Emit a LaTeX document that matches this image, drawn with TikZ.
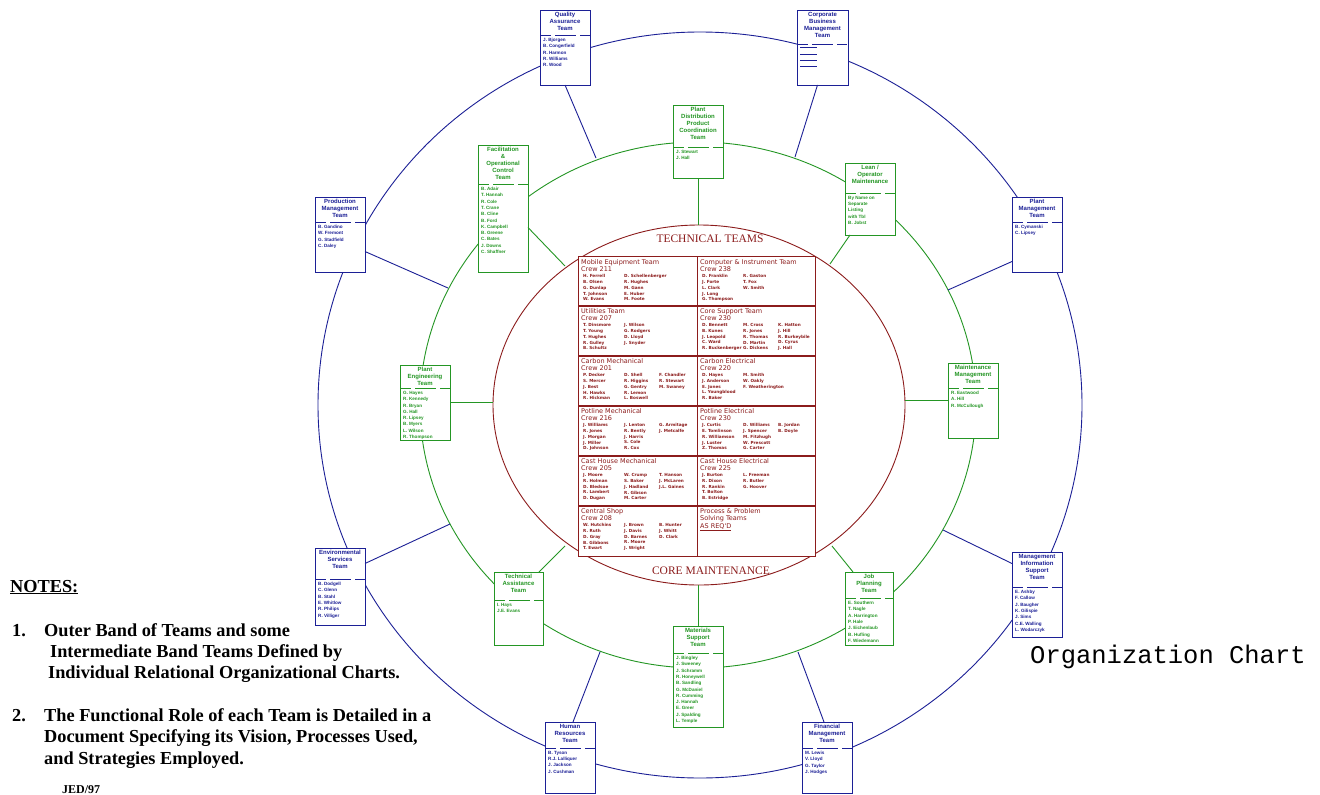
\documentclass[tikz,border=0pt]{standalone}
\usepackage{fontspec}
\setmainfont{Liberation Serif}
\setsansfont{Liberation Sans}
\newfontfamily\monof{Liberation Mono}
\newfontfamily\tabf{DejaVu Sans}
\usetikzlibrary{calc}
\definecolor{cblue}{RGB}{28,32,150}
\definecolor{cgreen}{RGB}{36,150,36}
\definecolor{cred}{RGB}{140,28,28}
\tikzset{
 tboxst/.style={draw=#1, fill=white, line width=1pt, inner sep=0pt, outer sep=0pt},
 ttitle/.style={font=\sffamily\bfseries\fontsize{6}{7}\selectfont, align=center, inner sep=0pt},
 tlist/.style={font=\sffamily\bfseries\fontsize{4.6}{6.3}\selectfont, align=left, inner sep=0pt},
 thead/.style={font=\tabf\fontsize{6.5}{7.6}\selectfont, text=cred, align=left, inner sep=0pt, anchor=north west},
 tname/.style={font=\tabf\bfseries\fontsize{4.2}{5.9}\selectfont, text=cred, align=left, inner sep=0pt, anchor=north west},
 ring/.style={line width=0.9pt},
 link/.style={line width=0.9pt},
 note/.style={font=\bfseries\fontsize{18.3}{21}\selectfont, anchor=base west, inner sep=0pt},
 sepline/.style={line width=0.9pt, dash pattern=on 11pt off 4pt on 21pt off 4pt on 10pt},
}
\newcommand{\tbox}[9]{%
  \node[tboxst=#2, minimum width={#5-#3}, minimum height={#6-#4}, anchor=north west] (#1) at (#3,#4) {};
  \draw[#2, sepline] (#3,#7) -- (#5,#7);
  \node[ttitle, text=#2, anchor=north] (#1-t) at ({(#3+#5)/2},{#4+2}) {#8};
  \node[tlist, text=#2, anchor=north west] (#1-l) at ({#3+3},{#7+3}) {#9};
}
\newcommand{\tcell}[7]{%
  \node[thead] (#1-h) at ({#2+3},{#3+2}) {#4};
  \node[tname] (#1-a) at ({#2+5},{#3+17}) {#5};
  \node[tname] (#1-b) at ({#2+46},{#3+17}) {#6};
  \node[tname] (#1-c) at ({#2+81},{#3+17}) {#7};
}
\newcommand{\dl}{\rule[1pt]{17pt}{0.6pt}}
\begin{document}
\begin{tikzpicture}[x=1pt,y=-1pt]
\useasboundingbox (0,0) rectangle (1320,795);
\fill[white] (0,0) rectangle (1320,795);
% rings
\draw[ring, cblue] (700,405) ellipse [x radius=382pt, y radius=373pt];
\draw[ring, cgreen] (698,405) ellipse [x radius=278pt, y radius=263pt];
\draw[ring, cred] (699,405) ellipse [x radius=206pt, y radius=180pt];
% points on rings
\coordinate (gqa) at (596,158);
\coordinate (gcb) at (795,157);
\coordinate (gpr) at (448,288);
\coordinate (gpm) at (948,290);
\coordinate (ges) at (450,524);
\coordinate (gmis) at (943,530);
\coordinate (ghr) at (600,652);
\coordinate (gfm) at (798,652);
\coordinate (rpd) at (698,225);
\coordinate (rpe) at (493,402.5);
\coordinate (rmm) at (905,400.5);
\coordinate (rms) at (698,585);
\coordinate (rfo) at (565,266);
\coordinate (rlo) at (830,264);
\coordinate (rta) at (565,546);
\coordinate (rjp) at (832,546);
% outer band (blue)
\tbox{qa}{cblue}{540}{10}{590}{85}{35}{Quality\\Assurance\\Team}{J. Bjorgen\\B. Congerfield\\R. Harmon\\R. Williams\\R. Wood}
\tbox{cbm}{cblue}{797}{10}{848}{85}{44}{Corporate\\Business\\Management\\Team}{\dl\\\dl\\\dl\\\dl}
\tbox{pm}{cblue}{1012}{197}{1062}{272}{222}{Plant\\Management\\Team}{B. Cymanski\\C. Lipsey}
\tbox{mis}{cblue}{1012}{552}{1062}{637}{587}{Management\\Information\\Support\\Team}{E. Ashby\\F. Callow\\J. Baugher\\K. Gilispie\\J. Sims\\C.E. Walling\\L. Wodarczyk}
\tbox{fm}{cblue}{802}{722}{852}{793}{748}{Financial\\Management\\Team}{M. Lewis\\V. Lloyd\\G. Taylor\\J. Hodges}
\tbox{hr}{cblue}{545}{722}{595}{793}{748}{Human\\Resources\\Team}{B. Tyson\\R.J. Lalliquer\\J. Jackson\\J. Cushman}
\tbox{es}{cblue}{315}{548}{365}{625}{579}{Environmental\\Services\\Team}{B. Dodgell\\C. Glenn\\B. Stahl\\E. Whitlow\\R. Philips\\R. Villiger}
\tbox{pr}{cblue}{315}{197}{365}{272}{222}{Production\\Management\\Team}{B. Gandino\\W. Fremont\\G. Stadfield\\C. Daley}
% intermediate band (green)
\tbox{fo}{cgreen}{478}{145}{528}{272}{184}{Facilitation\\\&\\Operational\\Control\\Team}{B. Adair\\T. Hannah\\R. Cole\\T. Crane\\B. Cline\\B. Ford\\K. Campbell\\B. Greene\\C. Bates\\J. Downs\\C. Shaffner}
\tbox{pd}{cgreen}{673}{105}{723}{178}{147}{Plant\\Distribution\\Product\\Coordination\\Team}{J. Stewart\\J. Hall}
\tbox{lo}{cgreen}{845}{163}{895}{235}{193}{Lean /\\Operator\\Maintenance}{By Name on\\Separate\\Listing\\with Tbl\\B. Jobst}
\tbox{pe}{cgreen}{400}{365}{450}{440}{388}{Plant\\Engineering\\Team}{G. Hayes\\R. Kennedy\\R. Bryan\\G. Hall\\R. Lipsey\\B. Myers\\L. Wilson\\R. Thompson}
\tbox{mm}{cgreen}{948}{363}{998}{438}{388}{Maintenance\\Management\\Team}{R. Eastwood\\A. Hill\\R. McCullough}
\tbox{ta}{cgreen}{494}{572}{543}{645}{600}{Technical\\Assistance\\Team}{I. Hays\\J.E. Evans}
\tbox{jp}{cgreen}{845}{572}{893}{645}{598}{Job\\Planning\\Team}{E. Southern\\T. Nagle\\A. Harrington\\P. Hale\\J. Eichenlaub\\B. Hufling\\F. Wiedemann}
\tbox{ms}{cgreen}{673}{626}{723}{727}{653}{Materials\\Support\\Team}{J. Bingley\\J. Sweeney\\J. Schramm\\R. Honeywell\\B. Sandling\\G. McDaniel\\R. Cumming\\J. Hannah\\E. Greer\\J. Spalding\\L. Temple}
% connectors blue
\draw[link,cblue] (qa.south) -- (gqa);
\draw[link,cblue] ([xshift=-5pt]cbm.south) -- (gcb);
\draw[link,cblue] ([yshift=-17pt]pr.east) -- (gpr);
\draw[link,cblue] ([yshift=-27pt]pm.west) -- (gpm);
\draw[link,cblue] ([yshift=23pt]es.east) -- (ges);
\draw[link,cblue] ([yshift=31pt]mis.west) -- (gmis);
\draw[link,cblue] ([xshift=3pt]hr.north) -- (ghr);
\draw[link,cblue] ([xshift=-3pt]fm.north) -- (gfm);
% connectors green
\draw[link,cgreen] (pd.south) -- (rpd);
\draw[link,cgreen] (pe.east) -- (rpe);
\draw[link,cgreen] (mm.west) -- (rmm);
\draw[link,cgreen] (ms.north) -- (rms);
\draw[link,cgreen] ([yshift=-19pt]fo.east) -- (rfo);
\draw[link,cgreen] ([xshift=5pt]lo.south west) -- (rlo);
\draw[link,cgreen] ([xshift=-4pt]ta.north east) -- (rta);
\draw[link,cgreen] ([xshift=8pt]jp.north west) -- (rjp);
% core table
\node[draw=cred, fill=white, line width=1.2pt, inner sep=0pt, minimum width=237, minimum height=300, anchor=north west] (tbl) at (578,256) {};
\draw[cred, line width=1.1pt] (tbl.north) -- (tbl.south);
\foreach \yy in {306,356,406,456,506} \draw[cred, line width=1.1pt] (578,\yy) -- (815,\yy);
\node[font=\fontsize{11.5}{12}\selectfont, text=cred] (tt) at (710,239) {TECHNICAL TEAMS};
\node[font=\fontsize{11.5}{12}\selectfont, text=cred] (cmt) at (711,571) {CORE MAINTENANCE};
\tcell{c1}{578}{257}{Mobile Equipment Team\\Crew 211}{H. Ferrell\\B. Olsen\\G. Dunlap\\T. Johnson\\W. Evans}{D. Schellenberger\\R. Hughes\\M. Gann\\E. Huber\\M. Foote}{}
\tcell{c2}{697}{257}{Computer \& Instrument Team\\Crew 238}{D. Franklin\\J. Forte\\L. Clark\\J. Long\\G. Thompson}{R. Gaston\\T. Fox\\W. Smith}{}
\tcell{c3}{578}{306}{Utilities Team\\Crew 207}{T. Dinsmore\\T. Young\\T. Hughes\\R. Gulley\\B. Schultz}{J. Wilson\\G. Rodgers\\D. Lloyd\\J. Snyder}{}
\tcell{c4}{697}{306}{Core Support Team\\Crew 230}{D. Bennett\\B. Kunes\\J. Leopold\\C. Ward\\R. Buckenberger}{M. Cross\\R. Jones\\R. Thomas\\D. Martin\\G. Dickens}{K. Hatton\\J. Hill\\R. Burkeybile\\D. Cyrus\\J. Hall}
\tcell{c5}{578}{356}{Carbon Mechanical\\Crew 201}{P. Decker\\S. Mercer\\J. Best\\H. Hawks\\R. Hickman}{D. Shell\\R. Higgins\\G. Gentry\\R. Lemon\\L. Boswell}{F. Chandler\\R. Stewart\\M. Swaney}
\tcell{c6}{697}{356}{Carbon Electrical\\Crew 220}{D. Hayes\\J. Anderson\\E. Jones\\L. Youngblood\\R. Baker}{M. Smith\\W. Oakly\\F. Weatherington}{}
\tcell{c7}{578}{406}{Potline Mechanical\\Crew 216}{J. Williams\\R. Jones\\J. Morgan\\J. Miller\\D. Johnson}{J. Lenton\\R. Bently\\J. Harris\\S. Cole\\R. Cox}{G. Armitage\\J. Metcalfe}
\tcell{c8}{697}{406}{Potline Electrical\\Crew 230}{J. Curtis\\E. Tomlinson\\R. Williamson\\J. Luster\\Z. Thomas}{D. Williams\\J. Spencer\\M. Fitzhugh\\W. Prescott\\G. Carter}{B. Jordan\\B. Doyle}
\tcell{c9}{578}{456}{Cast House Mechanical\\Crew 205}{J. Moore\\R. Holman\\D. Bledsoe\\R. Lambert\\D. Dugan}{W. Crump\\S. Baker\\J. Hadland\\R. Gibson\\M. Carter}{T. Hanson\\J. McLaren\\J.L. Gaines}
\tcell{c10}{697}{456}{Cast House Electrical\\Crew 225}{J. Burton\\R. Dixon\\R. Rankin\\T. Bolton\\B. Estridge}{L. Freeman\\R. Butler\\G. Hoover}{}
\tcell{c11}{578}{506}{Central Shop\\Crew 208}{W. Hutchins\\R. Ruth\\D. Gray\\B. Gibbons\\T. Ewart}{J. Brown\\J. Davis\\D. Barnes\\R. Moore\\J. Wright}{B. Hunter\\J. Whitt\\D. Clark}
\node[thead] (c12-h) at (700,508) {Process \& Problem\\Solving Teams\\\underline{AS REQ'D}};
% notes
\node[note] (n0) at (10,592) {\underline{NOTES:}};
\node[note] (n1a) at (12,636) {1.};
\node[note] (n1b) at (44,636) {Outer Band of Teams and some};
\node[note] (n1c) at (50,657) {Intermediate Band Teams Defined by};
\node[note] (n1d) at (48,678) {Individual Relational Organizational Charts.};
\node[note] (n2a) at (12,721) {2.};
\node[note] (n2b) at (44,721) {The Functional Role of each Team is Detailed in a};
\node[note] (n2c) at (44,742) {Document Specifying its Vision, Processes Used,};
\node[note] (n2d) at (44,764) {and Strategies Employed.};
\node[font=\bfseries\fontsize{12}{13}\selectfont, anchor=base west, inner sep=0pt] (jed) at (62,793) {JED/97};
\node[font=\monof\fontsize{25.5}{26}\selectfont, anchor=base west, inner sep=0pt] (oc) at (1030,663) {Organization Chart};
\end{tikzpicture}
\end{document}
